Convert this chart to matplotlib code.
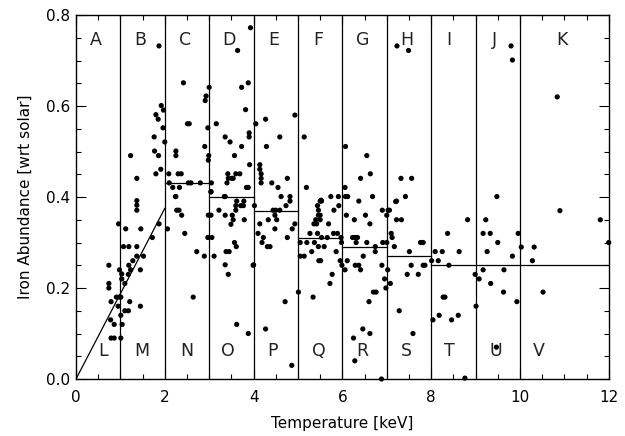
import matplotlib
matplotlib.use("Agg")
import matplotlib.pyplot as plt
from matplotlib.ticker import MultipleLocator

# ---- data ----
temperature = [
    1.87, 2.42, 3.00, 2.93, 2.91, 1.92, 1.97, 1.80, 1.85, 2.51, 2.55, 1.96, 2.97, 1.76, 2.00, 2.90,
    1.77, 2.25, 1.23, 1.86, 2.25, 2.99, 2.98, 1.91, 1.80, 2.09, 2.30, 2.37, 1.37, 2.10, 2.53, 2.59,
    2.80, 3.05, 2.18, 2.33, 2.24, 3.04,
    3.93, 3.64, 3.88, 3.73, 3.82, 3.16, 3.90, 3.90, 3.36, 3.47, 3.73, 3.57, 3.91, 3.42, 3.60, 3.69,
    3.43, 3.51, 3.54, 3.40, 3.84, 3.88, 3.36,
    2.25, 2.27, 2.32, 2.38, 2.45, 2.72, 2.89, 2.06, 2.64, 3.04, 3.34, 3.62, 3.78, 3.60, 3.71, 3.77,
    3.60, 3.22, 3.36, 3.52, 3.54, 3.49, 3.79, 2.98, 3.04, 2.97, 3.06, 3.11, 3.57, 3.61, 3.38, 3.45,
    3.36, 3.43, 4.00, 3.62, 3.88,
    1.37, 1.37, 1.37, 0.96, 1.12, 1.46, 1.07, 1.19, 1.37, 1.72, 1.87, 1.28, 1.37, 1.52, 1.19, 0.74,
    0.98, 1.23, 1.45, 1.03, 1.18, 1.03, 1.10, 0.74, 0.74, 0.91, 0.97, 1.01, 0.79, 1.21, 0.95, 1.45,
    1.10, 1.18, 1.01, 0.78, 0.86, 1.04, 0.79, 0.86, 1.01,
    7.23, 7.49, 4.93, 4.27, 4.05, 4.59, 5.14, 4.29, 6.07, 6.55, 4.14, 4.14, 4.17, 4.17, 4.17, 4.76,
    4.41, 4.55, 4.62, 4.82, 5.19, 6.41, 6.63, 6.06, 5.74, 5.91, 6.07, 6.12, 6.68, 7.32, 7.56, 7.42,
    7.20, 5.52,
    4.82, 4.02, 4.73, 4.44, 4.50, 4.59, 4.48, 4.33, 4.52, 4.14, 4.93, 4.48, 4.87, 4.10, 4.22, 4.76,
    4.19, 4.31, 4.37, 3.99, 4.71, 4.27, 4.86,
    5.50, 5.53, 5.44, 5.92, 5.81, 5.46, 5.50, 5.46, 5.40, 5.50, 5.36, 5.42, 5.69, 5.27, 5.44, 5.80,
    5.89, 5.53, 5.66, 5.97, 5.05, 5.20, 5.37, 5.98, 5.46, 5.59, 5.31, 5.86, 5.05, 5.14, 5.47, 5.51,
    5.95, 5.99, 6.11, 5.77, 5.72, 5.01, 5.34,
    6.37, 6.09, 6.52, 6.27, 6.90, 7.03, 7.06, 7.00, 6.62, 6.23, 6.29, 6.34, 6.31, 6.55, 6.91, 7.00,
    6.74, 6.74, 6.47, 6.29, 6.37, 6.41, 6.06, 6.89, 7.02, 6.95, 7.08, 6.98, 6.70, 6.76, 6.60, 6.46,
    6.25, 6.62, 6.28, 6.88,
    7.22, 7.22, 7.33, 7.10, 7.12, 7.17, 7.51, 7.76, 7.82, 7.55, 7.82, 7.46, 7.71, 7.28, 7.59,
    9.80, 9.83, 10.84, 9.48,
    10.90, 11.81, 8.82, 9.23, 8.37, 9.17, 9.33, 9.96, 9.50, 12.00, 10.03, 10.32, 8.09, 8.25, 8.63, 9.26,
    9.83, 8.01, 8.16, 10.28, 7.86, 8.40, 8.99, 9.08, 9.17, 9.64, 9.34, 9.63, 10.52, 8.27, 8.31, 9.93,
    9.01, 8.18, 8.61, 8.04, 8.46, 9.47, 8.76,
]
abundance = [
    0.732, 0.651, 0.641, 0.622, 0.612, 0.601, 0.591, 0.581, 0.571, 0.561, 0.561, 0.552, 0.552, 0.532, 0.521, 0.511,
    0.501, 0.501, 0.491, 0.491, 0.491, 0.491, 0.481, 0.461, 0.451, 0.451, 0.451, 0.451, 0.441, 0.431, 0.431, 0.431,
    0.431, 0.431, 0.421, 0.421, 0.401, 0.411,
    0.772, 0.722, 0.651, 0.641, 0.592, 0.561, 0.541, 0.532, 0.532, 0.521, 0.511, 0.491, 0.471, 0.451, 0.451, 0.451,
    0.441, 0.441, 0.441, 0.431, 0.421, 0.421, 0.401,
    0.401, 0.371, 0.371, 0.360, 0.320, 0.280, 0.270, 0.330, 0.180, 0.412, 0.401, 0.391, 0.391, 0.381, 0.381, 0.381,
    0.371, 0.371, 0.360, 0.360, 0.350, 0.340, 0.350, 0.360, 0.360, 0.311, 0.311, 0.270, 0.300, 0.291, 0.280, 0.280,
    0.251, 0.230, 0.251, 0.120, 0.100,
    0.392, 0.382, 0.371, 0.341, 0.330, 0.330, 0.291, 0.291, 0.291, 0.311, 0.341, 0.260, 0.270, 0.270, 0.250, 0.250,
    0.240, 0.240, 0.240, 0.231, 0.230, 0.220, 0.210, 0.210, 0.200, 0.180, 0.180, 0.180, 0.170, 0.170, 0.160, 0.160,
    0.150, 0.150, 0.140, 0.130, 0.120, 0.120, 0.090, 0.090, 0.090,
    0.732, 0.722, 0.580, 0.571, 0.561, 0.532, 0.532, 0.511, 0.511, 0.491, 0.471, 0.461, 0.451, 0.441, 0.431, 0.441,
    0.431, 0.421, 0.401, 0.401, 0.421, 0.441, 0.451, 0.421, 0.401, 0.401, 0.401, 0.401, 0.401, 0.441, 0.441, 0.401,
    0.390, 0.393,
    0.391, 0.381, 0.381, 0.371, 0.371, 0.371, 0.360, 0.350, 0.350, 0.341, 0.341, 0.330, 0.330, 0.320, 0.311, 0.311,
    0.300, 0.291, 0.291, 0.250, 0.170, 0.110, 0.030,
    0.391, 0.391, 0.381, 0.381, 0.371, 0.371, 0.360, 0.360, 0.350, 0.350, 0.341, 0.341, 0.341, 0.320, 0.320, 0.320,
    0.320, 0.311, 0.311, 0.311, 0.300, 0.300, 0.300, 0.300, 0.291, 0.291, 0.280, 0.280, 0.270, 0.270, 0.260, 0.260,
    0.260, 0.250, 0.260, 0.230, 0.210, 0.191, 0.180,
    0.391, 0.360, 0.360, 0.350, 0.371, 0.371, 0.371, 0.360, 0.341, 0.311, 0.311, 0.311, 0.300, 0.300, 0.300, 0.300,
    0.291, 0.280, 0.270, 0.250, 0.250, 0.240, 0.240, 0.250, 0.240, 0.220, 0.210, 0.200, 0.191, 0.191, 0.170, 0.110,
    0.090, 0.100, 0.040, 0.000,
    0.391, 0.350, 0.350, 0.320, 0.311, 0.291, 0.280, 0.300, 0.300, 0.250, 0.250, 0.230, 0.230, 0.150, 0.100,
    0.732, 0.701, 0.620, 0.401,
    0.370, 0.350, 0.350, 0.350, 0.320, 0.320, 0.320, 0.320, 0.300, 0.300, 0.290, 0.290, 0.280, 0.280, 0.280, 0.280,
    0.270, 0.260, 0.260, 0.260, 0.250, 0.250, 0.230, 0.220, 0.240, 0.240, 0.210, 0.191, 0.191, 0.180, 0.180, 0.170,
    0.160, 0.140, 0.140, 0.130, 0.130, 0.070, 0.002,
]

bin_edges = [1, 2, 3, 4, 5, 6, 7, 8, 9, 10]
mean_start = [2, 3, 4, 5, 6, 7, 8, 9, 10]
mean_end = [3, 4, 5, 6, 7, 8, 9, 10, 12]
mean_value = [0.431, 0.401, 0.370, 0.311, 0.291, 0.270, 0.250, 0.250, 0.250]
diag_x = [0, 2]
diag_y = [0, 0.375]

top_letters = ["A", "B", "C", "D", "E", "F", "G", "H", "I", "J", "K"]
top_letter_x = [0.45, 1.45, 2.45, 3.45, 4.45, 5.45, 6.45, 7.45, 8.40, 9.42, 10.95]
bottom_letters = ["L", "M", "N", "O", "P", "Q", "R", "S", "T", "U", "V"]
bottom_letter_x = [0.60, 1.48, 2.49, 3.43, 4.43, 5.46, 6.46, 7.45, 8.42, 9.46, 10.43]

# ---- figure ----
fig = plt.figure(figsize=(6.25, 4.36), dpi=100)
ax = fig.add_axes([0.1216, 0.1307, 0.8524, 0.8349])

lw = 0.9
for e in bin_edges:
    ax.axvline(e, color="black", lw=lw)
for s, e, v in zip(mean_start, mean_end, mean_value):
    ax.plot([s, e], [v, v], color="black", lw=lw)
ax.plot(diag_x, diag_y, color="black", lw=lw)

ax.scatter(temperature, abundance, s=14, color="black", edgecolors="none", zorder=3, clip_on=False)

for t, x in zip(top_letters, top_letter_x):
    ax.text(x, 0.745, t, ha="center", va="center", fontsize=12.5, color="#222222")
for t, x in zip(bottom_letters, bottom_letter_x):
    ax.text(x, 0.062, t, ha="center", va="center", fontsize=12.5, color="#222222")

ax.set_xlim(0, 12)
ax.set_ylim(0, 0.8)
ax.xaxis.set_major_locator(MultipleLocator(2))
ax.xaxis.set_minor_locator(MultipleLocator(0.5))
ax.yaxis.set_major_locator(MultipleLocator(0.2))
ax.yaxis.set_minor_locator(MultipleLocator(0.05))
ax.set_xticklabels([]) if False else None
ax.xaxis.set_major_formatter(matplotlib.ticker.FormatStrFormatter("%d"))
ax.yaxis.set_major_formatter(matplotlib.ticker.FormatStrFormatter("%.1f"))
ax.tick_params(which="both", direction="in", top=True, right=True, width=0.8, labelsize=11, colors="black")
ax.tick_params(which="major", length=7)
ax.tick_params(which="minor", length=3.5)
ax.tick_params(axis="x", pad=8)
ax.tick_params(axis="y", pad=4)
for sp in ax.spines.values():
    sp.set_linewidth(1.0)

ax.set_xlabel("Temperature [keV]", fontsize=11, labelpad=8)
ax.set_ylabel("Iron Abundance [wrt solar]", fontsize=11, labelpad=10)

fig.savefig("out.png", dpi=100)
